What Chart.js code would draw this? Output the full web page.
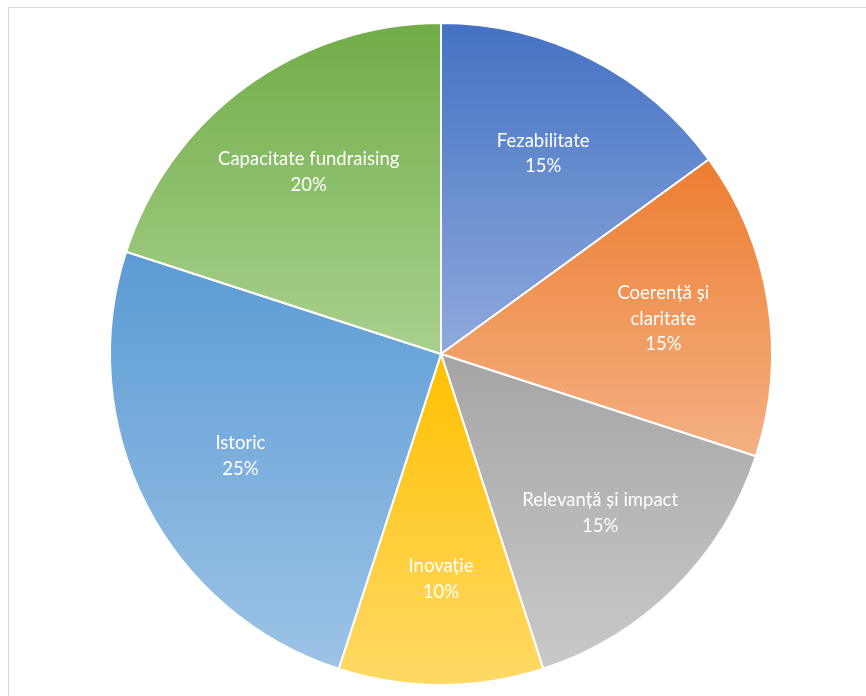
<!DOCTYPE html>
<html>
<head>
<meta charset="utf-8">
<script src="https://cdn.jsdelivr.net/npm/chart.js@4"></script>
<style>
  html, body { margin: 0; padding: 0; background: #ffffff; }
  #wrap { position: relative; width: 866px; height: 696px; overflow: hidden; }
  #frame { position: absolute; left: 8px; top: 7px; width: 900px; height: 720px; border: 1.5px solid #d9d9d9; box-sizing: border-box; }
  #c { position: absolute; left: 0; top: 0; }
</style>
</head>
<body>
<div id="wrap">
  <div id="frame"></div>
  <canvas id="c" width="866" height="696"></canvas>
</div>
<script>
const categories = ["Fezabilitate", "Coerență și claritate", "Relevanță și impact", "Inovație", "Istoric", "Capacitate fundraising"];
const labelLines = [["Fezabilitate"], ["Coerență și", "claritate"], ["Relevanță și impact"], ["Inovație"], ["Istoric"], ["Capacitate fundraising"]];
const values = [15, 15, 15, 10, 25, 20];
const darkColors = ["#4472C4", "#ED7D31", "#A5A5A5", "#FFC000", "#5B9BD5", "#70AD47"];
const lightColors = ["#8FAADC", "#F4B183", "#C9C9C9", "#FFD966", "#9DC3E6", "#A9D18E"];

const gradientPlugin = {
  id: 'sliceGradient',
  beforeDatasetsDraw(chart) {
    const ctx = chart.ctx;
    const meta = chart.getDatasetMeta(0);
    meta.data.forEach((arc, i) => {
      const p = arc.getProps(['x', 'y', 'startAngle', 'endAngle', 'outerRadius']);
      let ymin = p.y, ymax = p.y;
      const n = 200;
      for (let k = 0; k <= n; k++) {
        const a = p.startAngle + (p.endAngle - p.startAngle) * k / n;
        const yy = p.y + p.outerRadius * Math.sin(a);
        ymin = Math.min(ymin, yy);
        ymax = Math.max(ymax, yy);
      }
      const g = ctx.createLinearGradient(0, ymin, 0, ymax);
      g.addColorStop(0, darkColors[i]);
      g.addColorStop(1, lightColors[i]);
      arc.options = Object.assign({}, arc.options, { backgroundColor: g });
    });
  }
};

const labelPlugin = {
  id: 'sliceLabels',
  afterDatasetsDraw(chart) {
    const ctx = chart.ctx;
    const meta = chart.getDatasetMeta(0);
    const total = values.reduce((a, b) => a + b, 0);
    ctx.save();
    ctx.fillStyle = '#ffffff';
    ctx.font = '18.5px Lato, "Open Sans", sans-serif';
    ctx.textAlign = 'center';
    ctx.textBaseline = 'middle';
    const lh = 25.5;
    meta.data.forEach((arc, i) => {
      const p = arc.getProps(['x', 'y', 'startAngle', 'endAngle', 'outerRadius']);
      const mid = (p.startAngle + p.endAngle) / 2;
      const rr = p.outerRadius * 0.68;
      const cx = p.x + rr * Math.cos(mid);
      const cy = p.y + rr * Math.sin(mid);
      const lines = labelLines[i].concat([Math.round(values[i] / total * 100) + '%']);
      const y0 = cy - (lines.length - 1) * lh / 2;
      lines.forEach((t, k) => ctx.fillText(t, cx, y0 + k * lh));
    });
    ctx.restore();
  }
};

new Chart(document.getElementById('c'), {
  type: 'pie',
  data: {
    labels: categories,
    datasets: [{
      data: values,
      backgroundColor: darkColors,
      borderColor: '#ffffff',
      borderWidth: 2
    }]
  },
  options: {
    responsive: false,
    animation: false,
    layout: { padding: { left: 16, right: 0, top: 22, bottom: 10 } },
    plugins: {
      legend: { display: false },
      tooltip: { enabled: false }
    }
  },
  plugins: [gradientPlugin, labelPlugin]
});
</script>
</body>
</html>
